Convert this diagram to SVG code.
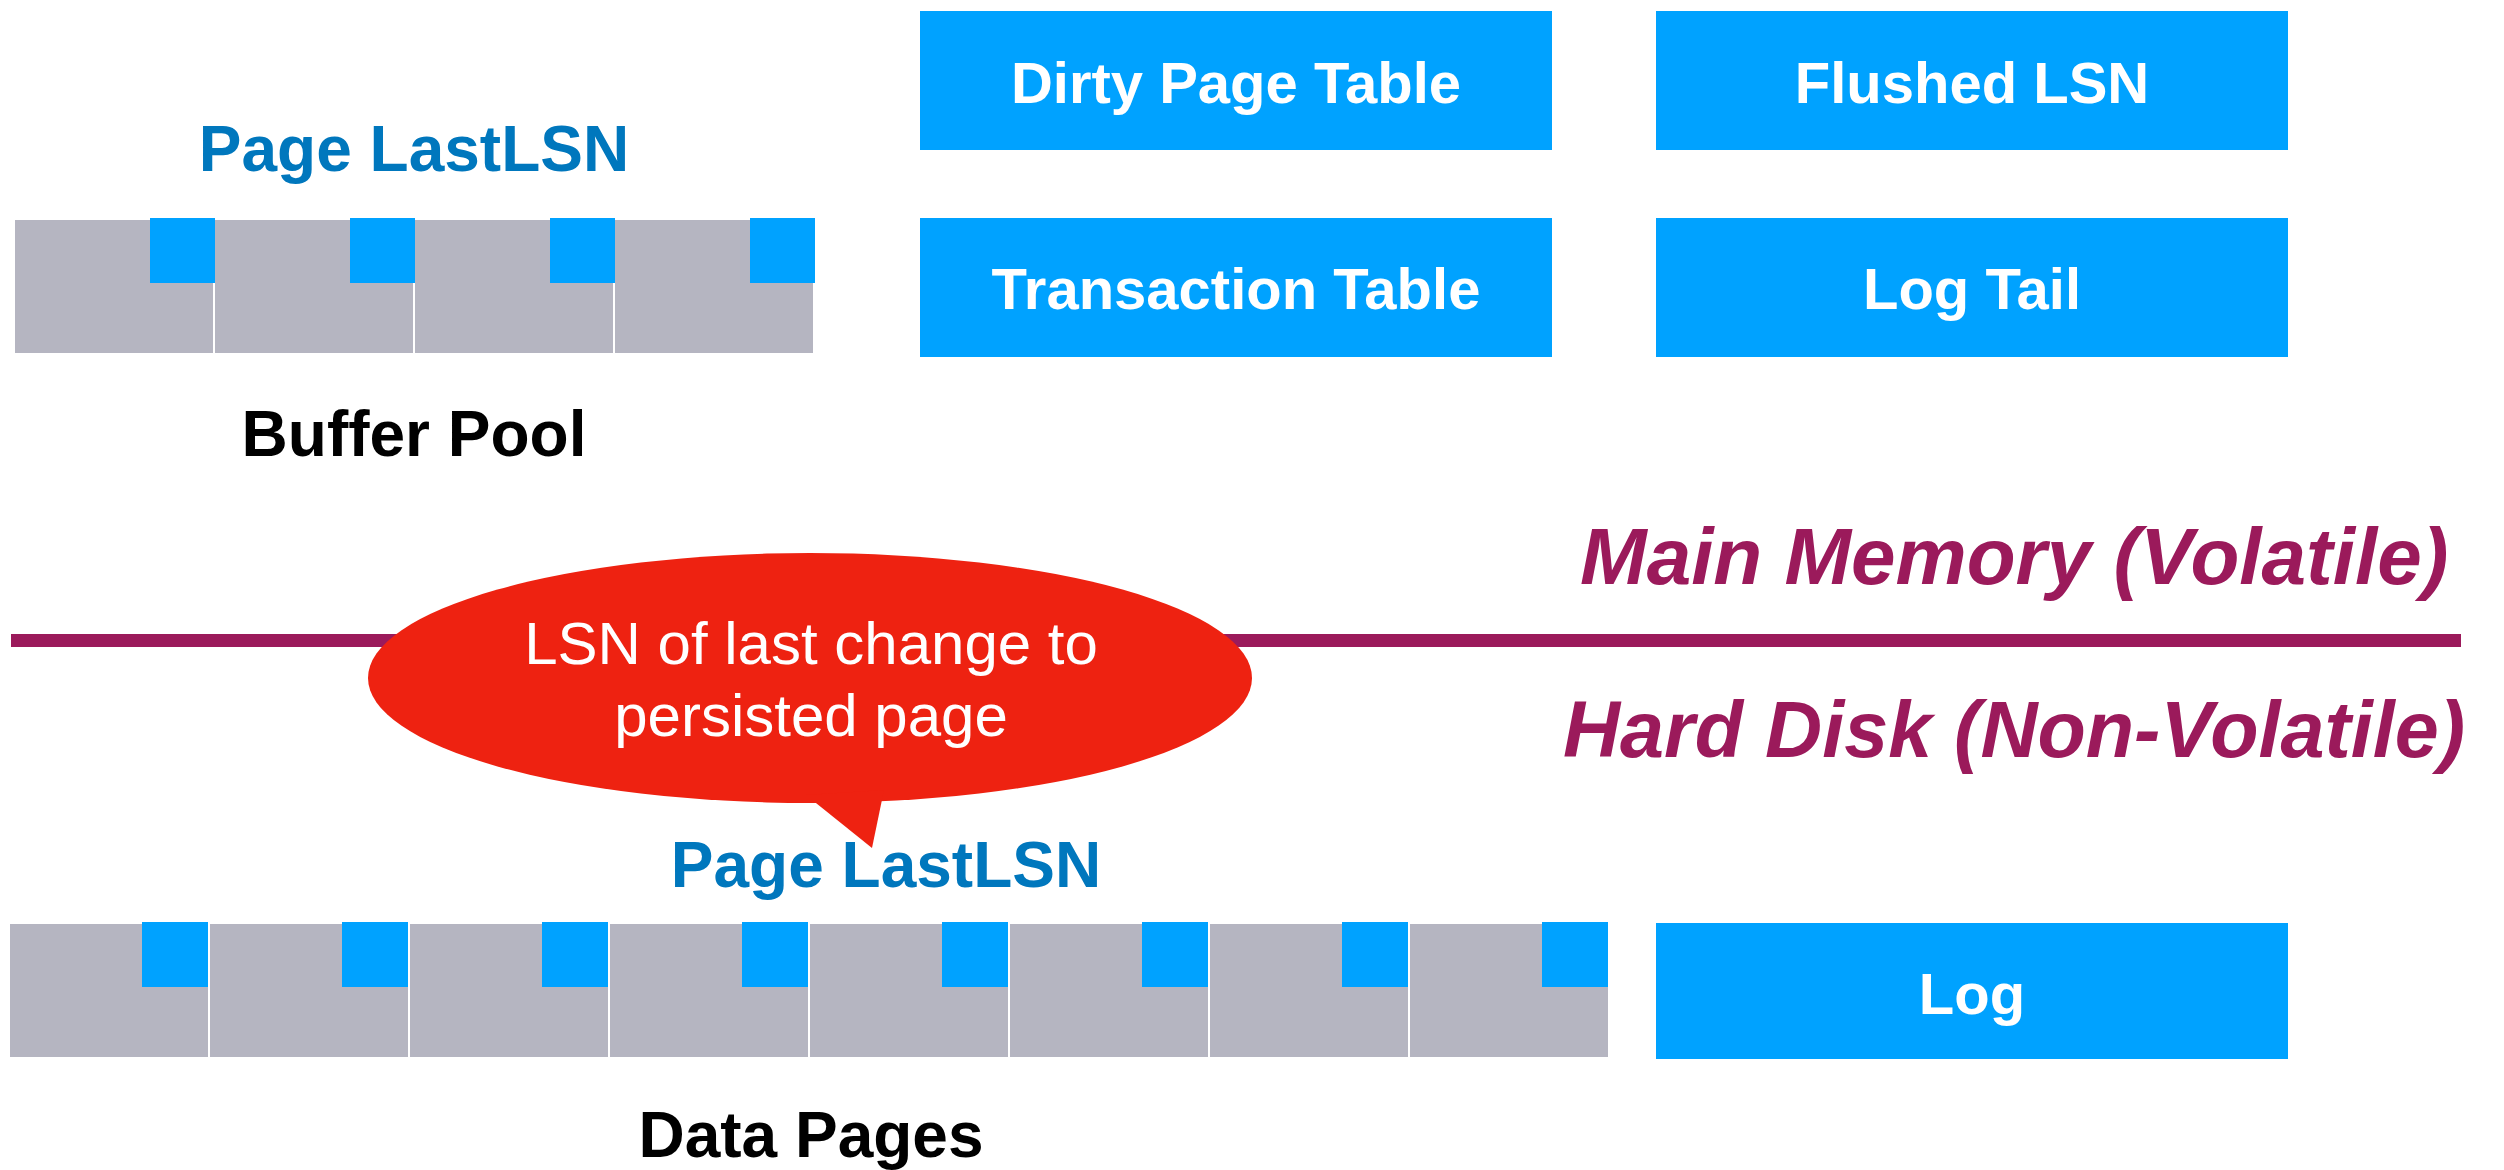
<svg xmlns="http://www.w3.org/2000/svg" width="2504" height="1170" viewBox="0 0 2504 1170">
  <style>
    .page { fill: #b5b5c1; }
    .lsn { fill: #00a2ff; }
    .box { fill: #00a2ff; }
    .boxlabel { font-family: "Liberation Sans", Arial, sans-serif; font-weight: bold; font-size: 58px; fill: #ffffff; text-anchor: middle; }
    .caption { font-family: "Liberation Sans", Arial, sans-serif; font-weight: bold; font-size: 64px; fill: #000000; text-anchor: middle; }
    .lsnlabel { font-family: "Liberation Sans", Arial, sans-serif; font-weight: bold; font-size: 64px; fill: #0077bd; text-anchor: middle; }
    .region { font-family: "Liberation Sans", Arial, sans-serif; font-weight: bold; font-style: italic; font-size: 80px; fill: #9b1a5b; }
    .callout { font-family: "Liberation Sans", Arial, sans-serif; font-size: 60px; fill: #ffffff; text-anchor: middle; }
  </style>
  <defs>
    <!-- one page slot: grey page with its LastLSN marker in the top-right corner -->
    <g id="pageTop">
      <rect class="page" x="0" y="2" width="198" height="133"/>
      <rect class="lsn" x="135" y="0" width="65" height="65"/>
    </g>
    <g id="pageDisk">
      <rect class="page" x="0" y="2" width="198" height="133"/>
      <rect class="lsn" x="132" y="0" width="66" height="65"/>
    </g>
  </defs>

  <rect width="2504" height="1170" fill="#ffffff"/>

  <!-- memory / disk boundary -->
  <g id="connectors">
    <rect x="11" y="634" width="2450" height="13" fill="#9b1a5b"/>
  </g>

  <g id="region-labels">
    <text class="region" x="1580" y="584">Main Memory (Volatile)</text>
    <text class="region" x="1563" y="757" textLength="902" lengthAdjust="spacingAndGlyphs">Hard Disk (Non-Volatile)</text>
  </g>

  <!-- buffer pool in memory -->
  <g id="buffer-pool">
    <text class="lsnlabel" x="414" y="171">Page LastLSN</text>
    <use href="#pageTop" x="15" y="218"/>
    <use href="#pageTop" x="215" y="218"/>
    <use href="#pageTop" x="415" y="218"/>
    <use href="#pageTop" x="615" y="218"/>
    <text class="caption" x="414" y="456">Buffer Pool</text>
  </g>

  <g id="dirty-page-table">
    <rect class="box" x="920" y="11" width="632" height="139"/>
    <text class="boxlabel" x="1236" y="103">Dirty Page Table</text>
  </g>
  <g id="flushed-lsn">
    <rect class="box" x="1656" y="11" width="632" height="139"/>
    <text class="boxlabel" x="1972" y="103">Flushed LSN</text>
  </g>
  <g id="transaction-table">
    <rect class="box" x="920" y="218" width="632" height="139"/>
    <text class="boxlabel" x="1236" y="309">Transaction Table</text>
  </g>
  <g id="log-tail">
    <rect class="box" x="1656" y="218" width="632" height="139"/>
    <text class="boxlabel" x="1972" y="309">Log Tail</text>
  </g>

  <!-- data pages on disk -->
  <g id="data-pages">
    <text class="lsnlabel" x="886" y="887">Page LastLSN</text>
    <use href="#pageDisk" x="10" y="922"/>
    <use href="#pageDisk" x="210" y="922"/>
    <use href="#pageDisk" x="410" y="922"/>
    <use href="#pageDisk" x="610" y="922"/>
    <use href="#pageDisk" x="810" y="922"/>
    <use href="#pageDisk" x="1010" y="922"/>
    <use href="#pageDisk" x="1210" y="922"/>
    <use href="#pageDisk" x="1410" y="922"/>
    <text class="caption" x="811" y="1157">Data Pages</text>
  </g>

  <g id="log">
    <rect class="box" x="1656" y="923" width="632" height="136"/>
    <text class="boxlabel" x="1972" y="1014">Log</text>
  </g>

  <!-- speech bubble pointing at the on-disk LastLSN -->
  <g id="callout">
    <ellipse cx="810" cy="678" rx="442" ry="125" fill="#ee2211"/>
    <path d="M806 795 L872 848 L884 790 Z" fill="#ee2211"/>
    <text class="callout" x="811" y="664">LSN of last change to</text>
    <text class="callout" x="811" y="736">persisted page</text>
  </g>
</svg>
